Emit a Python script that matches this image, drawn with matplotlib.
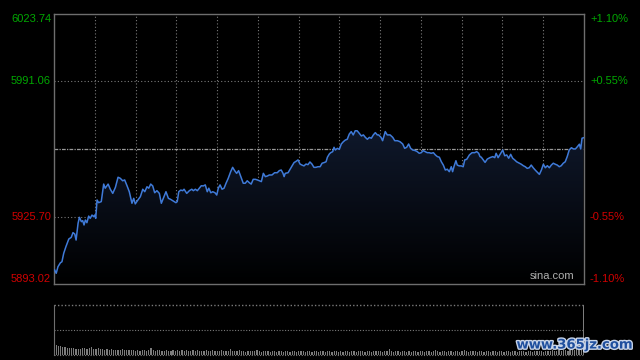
import numpy as np
import matplotlib
matplotlib.use("Agg")
import matplotlib.pyplot as plt
import matplotlib.patheffects as pe
from matplotlib.colors import LinearSegmentedColormap

# intraday index, minutes after open
minutes = [0.3, 1.0, 1.8, 2.9, 3.6, 4.4, 5.4, 6.7, 7.8, 8.6, 9.4, 10.0, 10.9, 11.5, 12.4, 13.0,
           13.6, 14.2, 14.9, 15.7, 16.4, 17.2, 18.0, 18.4, 18.9, 19.5, 20.2, 21.4, 22.5, 23.2,
           24.5, 25.5, 26.6, 27.8, 29.0, 30.0, 31.1, 32.0, 33.1, 34.1, 35.3, 36.1, 36.8, 38.0,
           39.1, 40.2, 41.1, 42.1, 42.9, 43.8, 44.7, 45.6, 46.6, 47.7, 48.6, 49.5, 50.7, 51.8,
           52.8, 54.0, 55.2, 55.8, 56.5, 57.4, 58.3, 58.9, 60.1, 61.3, 62.4, 63.1, 64.0, 64.9,
           65.8, 66.7, 67.6, 68.5, 69.4, 70.1, 71.0, 71.9, 72.9, 73.7, 74.4, 75.2, 76.1, 77.0,
           77.9, 78.9, 80.0, 80.9, 81.8, 82.7, 83.6, 84.5, 85.7, 86.6, 87.5, 88.4, 89.3, 90.2,
           91.2, 92.1, 93.0, 93.9, 94.8, 95.7, 96.6, 97.5, 98.7, 99.9, 101.1, 102.0, 102.9,
           103.7, 104.2, 104.7, 106.0, 106.9, 107.8, 108.7, 109.6, 110.5, 111.4, 112.3, 113.2,
           114.1, 115.0, 115.9, 116.8, 117.7, 118.6, 119.5, 120.5, 121.4, 122.3, 123.2, 123.8,
           124.7, 125.3, 126.2, 126.8, 127.4, 128.3, 129.2, 130.1, 131.0, 131.9, 132.8, 133.7,
           134.6, 135.5, 136.4, 137.3, 138.2, 139.2, 140.1, 141.0, 141.9, 142.8, 143.7, 144.6,
           145.5, 146.4, 147.0, 148.1, 148.8, 150.0, 150.9, 152.2, 153.4, 154.3, 155.5, 156.7,
           157.9, 158.8, 159.7, 160.6, 161.5, 162.4, 163.6, 164.5, 165.4, 166.3, 167.2, 168.1,
           169.0, 169.9, 170.8, 171.8, 172.7, 173.6, 174.5, 175.4, 176.3, 177.2, 178.1, 179.0,
           179.9, 180.5, 181.1, 182.0, 182.6, 183.5, 184.4, 185.3, 186.0, 186.9, 188.1, 189.3,
           190.5, 191.4, 192.3, 192.9, 193.5, 194.1, 195.2, 196.2, 197.4, 198.7, 199.6, 200.2,
           201.1, 202.3, 203.2, 204.1, 205.0, 205.9, 206.8, 207.7, 208.6, 209.5, 210.7, 211.6,
           212.5, 213.4, 214.3, 215.2, 216.1, 217.0, 217.9, 218.9, 219.8, 220.7, 221.6, 222.5,
           223.4, 224.3, 225.2, 226.1, 227.0, 227.9, 228.8, 229.7, 230.6, 231.5, 232.4, 233.3,
           234.3, 235.2, 236.1, 237.0, 237.9, 238.5, 239.1, 239.7]
prices = [5899.8, 5898.2, 5901.4, 5903.3, 5903.8, 5907.9, 5911.1, 5914.8, 5915.6, 5917.9, 5917.2,
          5914.3, 5922.4, 5925.3, 5923.2, 5923.7, 5921.6, 5924.0, 5922.7, 5925.9, 5924.8, 5926.4,
          5925.6, 5926.4, 5924.8, 5933.7, 5932.4, 5932.9, 5941.4, 5939.4, 5941.4, 5938.9, 5936.9,
          5939.8, 5944.7, 5944.2, 5943.0, 5943.4, 5940.5, 5937.7, 5932.1, 5934.5, 5931.8, 5933.7,
          5935.3, 5938.9, 5937.7, 5940.1, 5939.4, 5941.4, 5940.5, 5937.2, 5938.2, 5936.9, 5932.1,
          5934.5, 5937.7, 5934.5, 5934.0, 5933.2, 5932.4, 5932.9, 5937.7, 5938.5, 5938.2, 5938.9,
          5936.9, 5938.2, 5938.9, 5938.2, 5938.9, 5938.2, 5939.4, 5940.6, 5940.5, 5941.0, 5937.7,
          5939.4, 5937.2, 5937.7, 5937.2, 5936.1, 5939.4, 5941.0, 5938.9, 5939.4, 5941.8, 5944.2,
          5947.4, 5949.5, 5947.9, 5946.6, 5947.9, 5945.3, 5941.8, 5941.8, 5943.0, 5942.1, 5941.4,
          5943.7, 5943.7, 5943.4, 5943.0, 5942.6, 5946.6, 5945.0, 5945.3, 5945.8, 5945.8, 5946.9,
          5946.9, 5947.9, 5948.2, 5946.6, 5945.0, 5946.6, 5946.9, 5948.6, 5950.2, 5951.8, 5952.4,
          5953.1, 5951.1, 5950.6, 5950.2, 5951.1, 5950.8, 5952.1, 5951.1, 5949.5, 5949.5, 5949.8,
          5949.8, 5951.5, 5951.8, 5952.2, 5954.4, 5956.0, 5956.6, 5957.1, 5959.2, 5957.9, 5958.7,
          5958.2, 5960.8, 5961.9, 5962.7, 5963.1, 5965.6, 5966.8, 5965.2, 5967.2, 5967.2, 5966.0,
          5964.7, 5965.2, 5964.0, 5963.1, 5964.0, 5963.6, 5965.2, 5966.3, 5965.2, 5965.2, 5964.0,
          5962.4, 5966.8, 5965.2, 5965.2, 5964.0, 5962.4, 5962.4, 5961.9, 5960.8, 5958.7, 5959.2,
          5960.8, 5958.7, 5957.9, 5957.6, 5957.1, 5956.3, 5956.6, 5957.6, 5957.1, 5956.6, 5956.6,
          5956.3, 5956.6, 5955.5, 5954.7, 5954.4, 5952.2, 5950.6, 5948.2, 5948.6, 5947.4, 5949.8,
          5947.4, 5949.8, 5952.7, 5950.6, 5950.2, 5950.2, 5949.8, 5953.1, 5953.4, 5955.5, 5956.6,
          5956.6, 5957.1, 5956.3, 5954.7, 5954.4, 5953.5, 5951.9, 5953.5, 5954.2, 5954.7, 5954.2,
          5956.3, 5954.2, 5956.3, 5957.9, 5955.1, 5955.5, 5953.9, 5955.8, 5953.9, 5953.1, 5952.2,
          5951.5, 5951.0, 5950.3, 5949.8, 5949.0, 5949.3, 5950.6, 5949.3, 5948.2, 5947.1, 5946.1,
          5948.2, 5951.0, 5949.3, 5950.3, 5949.3, 5950.6, 5951.5, 5951.0, 5950.6, 5949.8, 5950.3,
          5951.5, 5952.2, 5954.7, 5957.9, 5959.0, 5958.4, 5958.4, 5959.5, 5960.7, 5958.4, 5963.6,
          5963.8]

# volume per minute (relative units)
volume = [13, 10, 9, 9, 8, 8, 7, 7, 7, 7, 6, 6, 6, 7, 7, 6, 7, 8, 6, 6,
          7, 6, 6, 5, 6, 5, 6, 5, 5, 5, 5, 6, 5, 5, 5, 5, 5, 4, 5, 4,
          5, 5, 4, 5, 7, 5, 4, 5, 5, 4, 4, 5, 4, 4, 5, 4, 5, 4, 5, 4,
          5, 4, 4, 5, 4, 5, 4, 4, 4, 5, 4, 4, 5, 4, 4, 4, 5, 4, 4, 4,
          6, 4, 4, 4, 5, 4, 4, 3, 4, 4, 4, 4, 5, 4, 3, 4, 4, 4, 3, 4,
          4, 3, 4, 4, 3, 4, 4, 3, 4, 4, 3, 4, 4, 4, 3, 4, 4, 3, 4, 4,
          3, 4, 4, 3, 4, 4, 3, 4, 4, 3, 4, 3, 4, 4, 3, 4, 4, 3, 4, 4,
          4, 3, 4, 4, 3, 4, 4, 4, 4, 3, 4, 4, 6, 4, 3, 4, 4, 3, 4, 4,
          3, 4, 3, 4, 4, 3, 4, 4, 3, 4, 4, 3, 4, 5, 4, 3, 4, 4, 3, 4,
          4, 3, 4, 4, 3, 4, 5, 4, 3, 4, 4, 4, 3, 4, 4, 3, 4, 4, 3, 4,
          4, 3, 4, 4, 3, 4, 4, 3, 4, 4, 3, 4, 4, 4, 3, 4, 4, 3, 4, 4,
          4, 4, 3, 4, 4, 4, 5, 4, 4, 5, 4, 5, 5, 4, 5, 6, 5, 6, 7, 8,
          50]

prev_close = 5958.38
left_ticks = [6023.74, 5991.06, 5925.70, 5893.02]
right_labels = ["+1.10%", "+0.55%", "-0.55%", "-1.10%"]

GREEN = "#00a800"
RED = "#d00000"
GRID = "#7a7a7a"

fig = plt.figure(figsize=(6.4, 3.6), dpi=100, facecolor="black")
ax = fig.add_axes([54 / 640, 1 - 284 / 360, 530 / 640, 270 / 360])
ax.set_facecolor("black")

# grid
for k in range(1, 13):
    ax.axvline(k * 240 / 13, color=GRID, lw=0.8, ls=(0, (1, 2)), zorder=1)
for v in [left_ticks[1], left_ticks[2]]:
    ax.axhline(v, color=GRID, lw=0.8, ls=(0, (1, 2)), zorder=1)
ax.axhline(prev_close, color="#9a9a9a", lw=0.9, ls=(0, (3, 1, 1, 1)), zorder=1)

# gradient fill under the line
x = np.array(minutes)
y = np.array(prices)
poly = ax.fill_between(x, y, left_ticks[-1], color="none", lw=0)
cmap = LinearSegmentedColormap.from_list("fade", ["#000000", "#0f182b"])
grad = np.linspace(0, 1, 256).reshape(-1, 1)
im = ax.imshow(grad, cmap=cmap, aspect="auto", origin="lower",
               extent=[0, 240, left_ticks[-1], y.max()], zorder=2)
im.set_clip_path(poly.get_paths()[0], transform=ax.transData)
ax.set_xlim(0, 240)
ax.set_ylim(left_ticks[-1], left_ticks[0])

ax.plot(x, y, color="#3f7ad8", lw=1.1, zorder=3)

for s in ax.spines.values():
    s.set_color("#6e6e6e")
    s.set_linewidth(1.0)
ax.set_xticks([])
ax.set_yticks([])

# axis labels
tx = -3 / 530
for i, (v, lab, va) in enumerate(zip(left_ticks, ["6023.74", "5991.06", "5925.70", "5893.02"],
                                     ["top", "center", "center", "bottom"])):
    col = GREEN if v > prev_close else RED
    ax.text(tx, v, lab, transform=ax.get_yaxis_transform(), ha="right", va=va,
            color=col, fontsize=8, family="Liberation Sans")
    ax.text(1 + 6 / 530, v, right_labels[i], transform=ax.get_yaxis_transform(),
            ha="left", va=va, color=col, fontsize=8, family="Liberation Sans")

ax.text(0.981, 0.01, "sina.com", transform=ax.transAxes, ha="right", va="bottom",
        color="#b0b0b0", fontsize=8, family="Liberation Sans")

# volume panel
vax = fig.add_axes([54 / 640, 1 - 355 / 360, 530 / 640, 50 / 360])
vax.set_facecolor("black")
vidx = np.arange(len(volume))
vax.bar(vidx, volume, width=0.55, color="#7c7c7c", align="center")
vax.set_xlim(0, 240.3)
vax.set_ylim(0, max(volume))
vax.axhline(max(volume) / 2, color=GRID, lw=0.8, ls=(0, (1, 1.5)))
vax.axhline(max(volume), color=GRID, lw=1.0, ls=(0, (1, 1.5)), clip_on=False)
vax.axhline(0, color=GRID, lw=0.8, ls=(0, (1, 1.5)), clip_on=False)
for side in ["top", "right", "bottom"]:
    vax.spines[side].set_visible(False)
vax.spines["left"].set_color("#6e6e6e")
vax.set_xticks([])
vax.set_yticks([])

fig.text(575 / 640, 1 - 345 / 360, "www.365jz.com", ha="center", va="center",
         color="#1f4f9e", fontsize=9.5, fontweight="bold", family="DejaVu Sans",
         path_effects=[pe.withStroke(linewidth=2, foreground="#c8d4e8")])

fig.savefig("out.png", dpi=100, facecolor="black")
